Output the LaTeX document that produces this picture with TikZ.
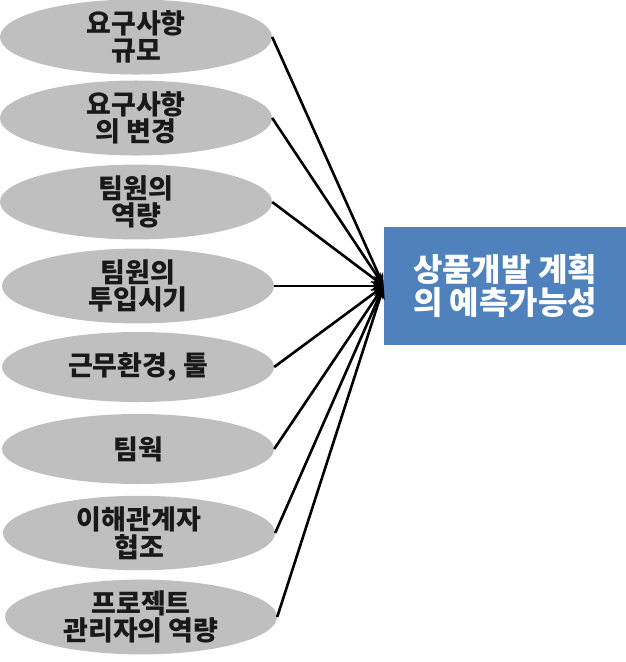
\documentclass[tikz,border=0pt]{standalone}
\usepackage{fontspec}
\usepackage{tikz}
\usetikzlibrary{shapes.geometric,arrows.meta}
\newfontfamily\krfont{Noto Sans CJK KR}

\definecolor{factorgray}{RGB}{191,191,191}
\definecolor{goalblue}{RGB}{79,129,189}

\tikzset{
  factor/.style={ellipse, fill=factorgray, minimum width=272pt, minimum height=70pt,
    inner sep=0pt, align=center, text=black!90,
    font=\krfont\bfseries\fontsize{27}{27.5}\selectfont},
  goalbox/.style={rectangle, fill=goalblue, minimum width=242pt, minimum height=118pt,
    inner sep=0pt, align=center, text=white,
    font=\krfont\bfseries\fontsize{32}{33}\selectfont},
  link/.style={-{Stealth[length=13pt,width=10pt]}, line width=2.6pt}
}

\begin{document}
\begin{tikzpicture}[x=1pt, y=-1pt]

\useasboundingbox (0,0) rectangle (626,662);

\node [factor] (scale)   at (136,37)  {요구사항\\규모};
\node [factor] (change)  at (136,118) {요구사항\\의 변경};
\node [factor] (skill)   at (136,202) {팀원의\\역량};
\node [factor] (timing)  at (138,286) {팀원의\\투입시기};
\node [factor] (env)     at (138,367) {근무환경, 툴};
\node [factor] (team)    at (138,449) {팀웍};
\node [factor] (stake)   at (139,533) {이해관계자\\협조};
\node [factor] (pm)      at (141,617) {프로젝트\\관리자의 역량};

\node [goalbox] (goal) at (505,286) {상품개발 계획\\의 예측가능성};

\draw [link] (scale.east)  -- (goal.west);
\draw [link] (change.east) -- (goal.west);
\draw [link] (skill.east)  -- (goal.west);
\draw [link] (timing.east) -- (goal.west);
\draw [link] (env.east)    -- (goal.west);
\draw [link] (team.east)   -- (goal.west);
\draw [link] (stake.east)  -- (goal.west);
\draw [link] (pm.east)     -- (goal.west);

\end{tikzpicture}
\end{document}
